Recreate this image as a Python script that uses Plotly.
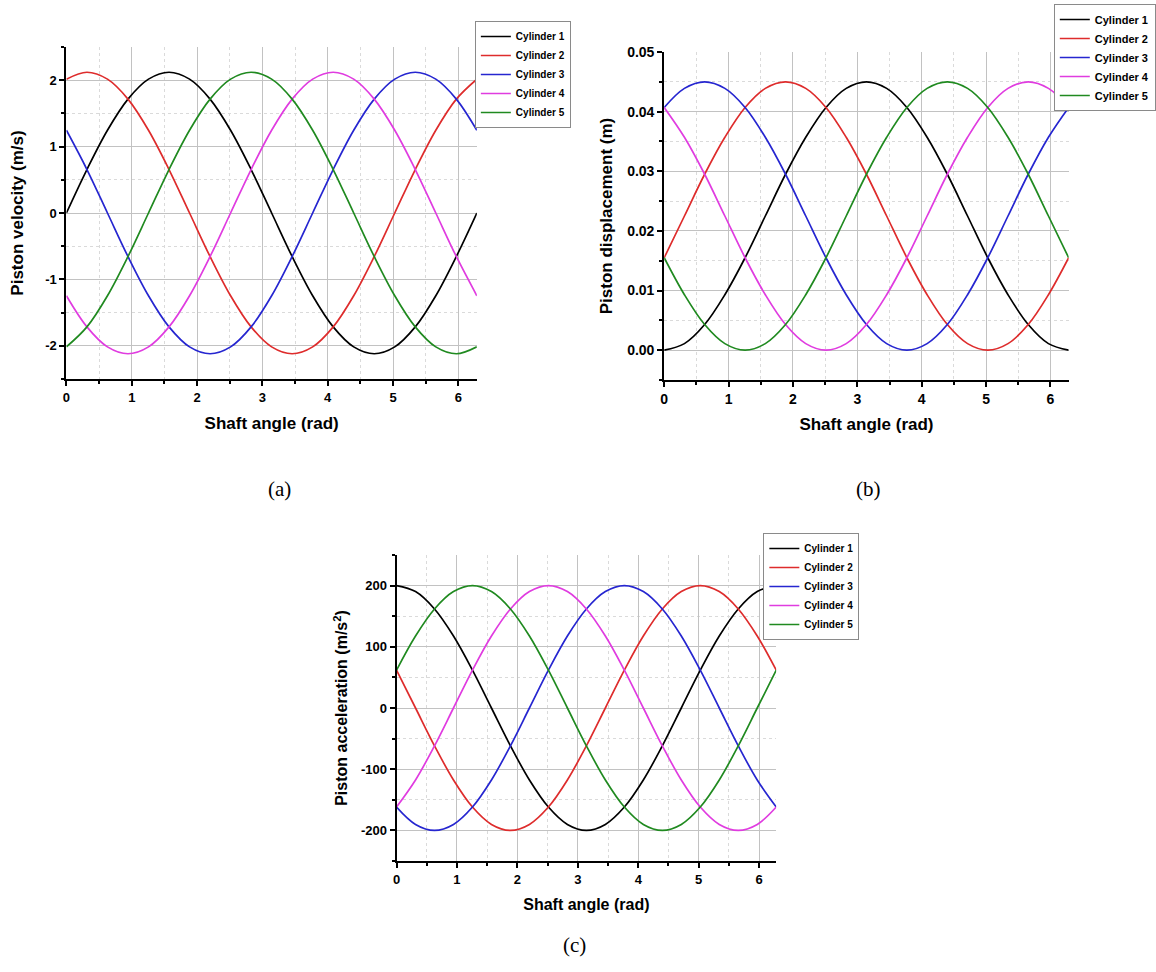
import plotly.graph_objects as go

# ---------------- data ----------------
shaft_angle = [0, 0.3142, 0.6283, 0.9425, 1.2566, 1.5708, 1.8850, 2.1991, 2.5133, 2.8274,
               3.1416, 3.4558, 3.7699, 4.0841, 4.3982, 4.7124, 5.0265, 5.3407, 5.6549,
               5.9690, 6.2832]

cylinders = ["Cylinder 1", "Cylinder 2", "Cylinder 3", "Cylinder 4", "Cylinder 5"]

vel_c1 = [0, 0.655, 1.246, 1.715, 2.016, 2.12, 2.016, 1.715, 1.246, 0.655, 0,
          -0.655, -1.246, -1.715, -2.016, -2.12, -2.016, -1.715, -1.246, -0.655, 0]
vel_c2 = [2.016, 2.12, 2.016, 1.715, 1.246, 0.655, 0, -0.655, -1.246, -1.715, -2.016,
          -2.12, -2.016, -1.715, -1.246, -0.655, 0, 0.655, 1.246, 1.715, 2.016]
vel_c3 = [1.246, 0.655, 0, -0.655, -1.246, -1.715, -2.016, -2.12, -2.016, -1.715, -1.246,
          -0.655, 0, 0.655, 1.246, 1.715, 2.016, 2.12, 2.016, 1.715, 1.246]
vel_c4 = [-1.246, -1.715, -2.016, -2.12, -2.016, -1.715, -1.246, -0.655, 0, 0.655, 1.246,
          1.715, 2.016, 2.12, 2.016, 1.715, 1.246, 0.655, 0, -0.655, -1.246]
vel_c5 = [-2.016, -1.715, -1.246, -0.655, 0, 0.655, 1.246, 1.715, 2.016, 2.12, 2.016,
          1.715, 1.246, 0.655, 0, -0.655, -1.246, -1.715, -2.016, -2.12, -2.016]

disp_c1 = [0, 0.0011, 0.0043, 0.0093, 0.0155, 0.0225, 0.0295, 0.0357, 0.0407, 0.0439, 0.045,
           0.0439, 0.0407, 0.0357, 0.0295, 0.0225, 0.0155, 0.0093, 0.0043, 0.0011, 0]
disp_c2 = [0.0155, 0.0225, 0.0295, 0.0357, 0.0407, 0.0439, 0.045, 0.0439, 0.0407, 0.0357, 0.0295,
           0.0225, 0.0155, 0.0093, 0.0043, 0.0011, 0, 0.0011, 0.0043, 0.0093, 0.0155]
disp_c3 = [0.0407, 0.0439, 0.045, 0.0439, 0.0407, 0.0357, 0.0295, 0.0225, 0.0155, 0.0093, 0.0043,
           0.0011, 0, 0.0011, 0.0043, 0.0093, 0.0155, 0.0225, 0.0295, 0.0357, 0.0407]
disp_c4 = [0.0407, 0.0357, 0.0295, 0.0225, 0.0155, 0.0093, 0.0043, 0.0011, 0, 0.0011, 0.0043,
           0.0093, 0.0155, 0.0225, 0.0295, 0.0357, 0.0407, 0.0439, 0.045, 0.0439, 0.0407]
disp_c5 = [0.0155, 0.0093, 0.0043, 0.0011, 0, 0.0011, 0.0043, 0.0093, 0.0155, 0.0225, 0.0295,
           0.0357, 0.0407, 0.0439, 0.045, 0.0439, 0.0407, 0.0357, 0.0295, 0.0225, 0.0155]

acc_c1 = [200, 190.2, 161.8, 117.6, 61.8, 0, -61.8, -117.6, -161.8, -190.2, -200,
          -190.2, -161.8, -117.6, -61.8, 0, 61.8, 117.6, 161.8, 190.2, 200]
acc_c2 = [61.8, 0, -61.8, -117.6, -161.8, -190.2, -200, -190.2, -161.8, -117.6, -61.8,
          0, 61.8, 117.6, 161.8, 190.2, 200, 190.2, 161.8, 117.6, 61.8]
acc_c3 = [-161.8, -190.2, -200, -190.2, -161.8, -117.6, -61.8, 0, 61.8, 117.6, 161.8,
          190.2, 200, 190.2, 161.8, 117.6, 61.8, 0, -61.8, -117.6, -161.8]
acc_c4 = [-161.8, -117.6, -61.8, 0, 61.8, 117.6, 161.8, 190.2, 200, 190.2, 161.8,
          117.6, 61.8, 0, -61.8, -117.6, -161.8, -190.2, -200, -190.2, -161.8]
acc_c5 = [61.8, 117.6, 161.8, 190.2, 200, 190.2, 161.8, 117.6, 61.8, 0, -61.8,
          -117.6, -161.8, -190.2, -200, -190.2, -161.8, -117.6, -61.8, 0, 61.8]

# tick values and labels
x_ticks = [0, 1, 2, 3, 4, 5, 6]
vel_ticks = [-2, -1, 0, 1, 2]
vel_labels = ["-2", "-1", "0", "1", "2"]
disp_ticks = [0.00, 0.01, 0.02, 0.03, 0.04, 0.05]
disp_labels = ["0.00", "0.01", "0.02", "0.03", "0.04", "0.05"]
acc_ticks = [-200, -100, 0, 100, 200]
acc_labels = ["-200", "-100", "0", "100", "200"]

# ---------------- styling ----------------
COLORS = ["#000000", "#de2c2c", "#2626d0", "#e03ce0", "#208a20"]
SANS = "Arial, Liberation Sans, sans-serif"
SERIF = "Times New Roman, Liberation Serif, serif"
W, H = 1156, 972

panels = [
    dict(series=[vel_c1, vel_c2, vel_c3, vel_c4, vel_c5], ax="", legend="legend"),
    dict(series=[disp_c1, disp_c2, disp_c3, disp_c4, disp_c5], ax="2", legend="legend2"),
    dict(series=[acc_c1, acc_c2, acc_c3, acc_c4, acc_c5], ax="3", legend="legend3"),
]

fig = go.Figure()
for p in panels:
    for name, ys, col in zip(cylinders, p["series"], COLORS):
        fig.add_trace(go.Scatter(
            x=shaft_angle, y=ys, name=name, mode="lines",
            line=dict(color=col, width=1.7, shape="spline", smoothing=1.0),
            xaxis="x" + p["ax"], yaxis="y" + p["ax"], legend=p["legend"],
        ))


def px_x(a, b):
    return [a / W, b / W]


def px_y(top, bottom):
    return [1 - bottom / H, 1 - top / H]


GRID = "#c2c2c2"
MINOR_GRID = "#dadada"


def xaxis(domain, anchor, tick_size, title_size, standoff):
    return dict(
        domain=domain, anchor=anchor, range=[0, 6.2832],
        tickvals=x_ticks, ticks="outside", ticklen=5, tickwidth=1.5, tickcolor="black",
        showline=True, linecolor="black", linewidth=2, zeroline=False,
        showgrid=True, gridcolor=GRID, gridwidth=1,
        minor=dict(dtick=0.5, tick0=0, ticks="outside", ticklen=3, tickcolor="black",
                   showgrid=True, gridcolor=MINOR_GRID, griddash="dot", gridwidth=1),
        tickfont=dict(family=SANS, size=tick_size, color="black", weight="bold"),
        title=dict(text="Shaft angle (rad)", standoff=standoff,
                   font=dict(family=SANS, size=title_size, color="black", weight="bold")),
        automargin=False, fixedrange=True,
    )


def yaxis(domain, anchor, rng, tickvals, ticktext, minor, title, standoff,
          tick_size, title_size):
    return dict(
        domain=domain, anchor=anchor, range=rng,
        tickvals=tickvals, ticktext=ticktext,
        ticks="outside", ticklen=5, tickwidth=1.5, tickcolor="black",
        showline=True, linecolor="black", linewidth=2, zeroline=False,
        showgrid=True, gridcolor=GRID, gridwidth=1,
        minor=dict(dtick=minor, ticks="outside", ticklen=3, tickcolor="black",
                   showgrid=True, gridcolor=MINOR_GRID, griddash="dot", gridwidth=1),
        tickfont=dict(family=SANS, size=tick_size, color="black", weight="bold"),
        title=dict(text=title, standoff=standoff,
                   font=dict(family=SANS, size=title_size, color="black", weight="bold")),
        automargin=False, fixedrange=True,
    )


def legend_box(x_px, y_px, size):
    return dict(
        x=x_px / W, y=1 - y_px / H, xanchor="left", yanchor="top",
        bgcolor="white", bordercolor="#8a8a8a", borderwidth=1,
        font=dict(family=SANS, size=size, color="black", weight="bold"),
        itemwidth=30, tracegroupgap=0,
    )


def panel_label(text, x_px, y_px):
    return dict(text=text, x=x_px / W, y=1 - y_px / H, xref="paper", yref="paper",
                showarrow=False, font=dict(family=SERIF, size=21, color="black"))


fig.update_layout(
    width=W, height=H,
    margin=dict(l=0, r=0, t=0, b=0),
    paper_bgcolor="white", plot_bgcolor="white",
    showlegend=True,
    xaxis=xaxis(px_x(67, 481), "y", 13, 17, 14),
    yaxis=yaxis(px_y(47, 379), "x", [-2.5, 2.5], vel_ticks, vel_labels, 0.5,
                "Piston velocity (m/s)", 17, 13, 17),
    xaxis2=xaxis(px_x(670, 1078), "y2", 14, 17, 12),
    yaxis2=yaxis(px_y(52, 380), "x2", [-0.005, 0.05], disp_ticks, disp_labels, 0.005,
                 "Piston displacement (m)", 10, 14, 17),
    xaxis3=xaxis(px_x(400, 783), "y3", 13, 16, 13),
    yaxis3=yaxis(px_y(555, 861), "x3", [-250, 250], acc_ticks, acc_labels, 50,
                 "Piston acceleration (m/s<sup>2</sup>)", 9, 13, 16),
    legend=legend_box(479, 21, 10),
    legend2=legend_box(1063, 4, 11),
    legend3=legend_box(770, 533, 10),
    annotations=[
        panel_label("(a)", 268, 489),
        panel_label("(b)", 891, 489),
        panel_label("(c)", 580, 959),
    ],
)

fig.write_html("out.html", config={"displayModeBar": False})
